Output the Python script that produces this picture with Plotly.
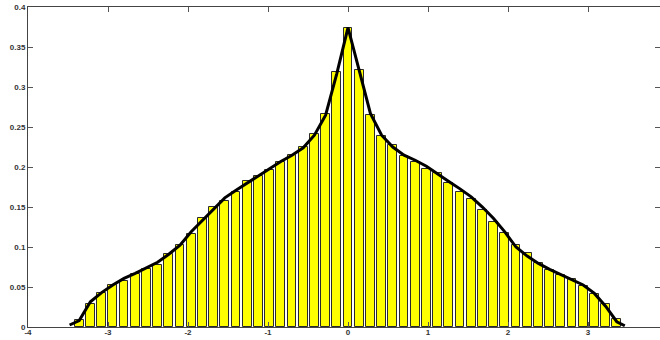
import numpy as np
import plotly.graph_objects as go

# Histogram: bin centres are k * 0.14 for k = -24..24
bin_width = 0.14
bin_index = list(range(-24, 25))
bin_centers = [round(k * bin_width, 2) for k in bin_index]
bin_heights = [
    0.0087, 0.029, 0.042, 0.052, 0.0574, 0.066, 0.073, 0.078, 0.091, 0.103,
    0.116, 0.136, 0.150, 0.158, 0.169, 0.182, 0.189, 0.1957, 0.2057, 0.2148,
    0.2248, 0.2419, 0.2668, 0.3193, 0.3743, 0.321, 0.2648, 0.239, 0.228, 0.214,
    0.2060, 0.198, 0.1923, 0.1798, 0.1686, 0.160, 0.1465, 0.131, 0.118, 0.102,
    0.093, 0.0795, 0.071, 0.0645, 0.0604, 0.0516, 0.0416, 0.0283, 0.0096,
]

# Density curve sampled on the same grid, plus the two end points
curve_x = [-3.48] + bin_centers + [3.46]
curve_y = [
    0.0025,
    0.008, 0.0316, 0.043, 0.0525, 0.0608, 0.067, 0.074, 0.081, 0.091, 0.1024,
    0.119, 0.1336, 0.1474, 0.1615, 0.171, 0.180, 0.1886, 0.197, 0.207, 0.2148,
    0.224, 0.2398, 0.2648, 0.3168, 0.3743, 0.321, 0.267, 0.2398, 0.225, 0.2148,
    0.2085, 0.201, 0.191, 0.182, 0.1727, 0.1627, 0.150, 0.1357, 0.119, 0.100,
    0.0887, 0.0795, 0.072, 0.0658, 0.0596, 0.0525, 0.042, 0.026, 0.0066,
    0.0016,
]

x_ticks = [-4, -3, -2, -1, 0, 1, 2, 3]
y_ticks = [0, 0.05, 0.1, 0.15, 0.2, 0.25, 0.3, 0.35, 0.4]
y_tick_text = ["0", "0.05", "0.1", "0.15", "0.2", "0.25", "0.3", "0.35", "0.4"]

fig = go.Figure()
fig.add_trace(go.Bar(
    x=bin_centers,
    y=bin_heights,
    width=0.8 * bin_width,
    marker=dict(color="#FFFF00", line=dict(color="#2a2a2a", width=1)),
    showlegend=False,
))
fig.add_trace(go.Scatter(
    x=curve_x,
    y=curve_y,
    mode="lines",
    line=dict(color="black", width=3),
    showlegend=False,
))

axis_font = dict(family="Liberation Sans, Arial, sans-serif", size=8,
                 color="#333333", weight="bold")
fig.update_layout(
    width=660,
    height=340,
    margin=dict(l=28, r=0, t=7, b=13),
    paper_bgcolor="white",
    plot_bgcolor="white",
    bargap=0,
    xaxis=dict(
        range=[-4, 3.9],
        tickvals=x_ticks,
        ticktext=[str(v) for v in x_ticks],
        ticks="inside",
        ticklen=5,
        tickcolor="#555555",
        showline=True,
        linecolor="#444444",
        linewidth=1,
        mirror="ticks",
        showgrid=False,
        zeroline=False,
        tickfont=axis_font,
        ticklabelstandoff=-3,
    ),
    yaxis=dict(
        range=[0, 0.4001],
        tickvals=y_ticks,
        ticktext=y_tick_text,
        ticks="inside",
        ticklen=5,
        tickcolor="#555555",
        showline=True,
        linecolor="#444444",
        linewidth=1,
        mirror="ticks",
        showgrid=False,
        zeroline=False,
        tickfont=axis_font,
        ticklabeloverflow="allow",
    ),
)

fig.write_html("out.html")
